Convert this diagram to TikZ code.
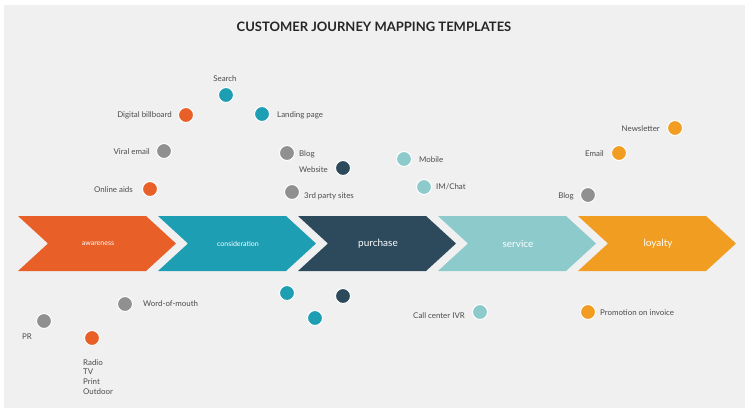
\documentclass[tikz,border=0pt]{standalone}
\usepackage{fontspec}
\setmainfont{Lato}
\begin{document}
\begin{tikzpicture}[x=1pt,y=-1pt,
  dot/.style={circle,minimum size=15pt,inner sep=0pt,draw=white,line width=1pt},
  lbl/.style={font=\fontsize{7.9}{9}\selectfont,text=black!70,inner sep=0pt}]
\definecolor{cor}{HTML}{E85F27}
\definecolor{cte}{HTML}{1E9EB2}
\definecolor{cdk}{HTML}{2C4A5C}
\definecolor{clt}{HTML}{8CCACB}
\definecolor{cye}{HTML}{F19D22}
\definecolor{cgr}{HTML}{909090}
\definecolor{bg}{HTML}{F0F0F0}
\useasboundingbox (0,0) rectangle (750,413);
\fill[white] (0,0) rectangle (750,413);
\fill[bg] (4,5) rectangle (745,408);
\node[font=\bfseries\fontsize{13}{15}\selectfont,text=black!85] (title) at (374,27) {CUSTOMER JOURNEY MAPPING TEMPLATES};
% chevrons
\foreach \i/\c/\t/\s in {0/cor/awareness/7,1/cte/consideration/7,2/cdk/purchase/10,3/clt/service/10,4/cye/loyalty/10}{
  \fill[\c] ({18+140*\i},216) -- ({146+140*\i},216) -- ({176+140*\i},243.5) -- ({146+140*\i},271) -- ({18+140*\i},271) -- ({48+140*\i},243.5) -- cycle;
  \node[text=white,font=\fontsize{\s}{12}\selectfont] (s\i) at ({98+140*\i},243.5) {\t};
}
% dots
\node[dot,fill=cte] (d1) at (226,95) {};
\node[lbl] (l1) at (225,79) {Search};
\node[dot,fill=cor] (d2) at (186,115) {};
\node[lbl,anchor=east] (l2) at (172,115) {Digital billboard};
\node[dot,fill=cte] (d3) at (262,114) {};
\node[lbl,anchor=west] (l3) at (277,115) {Landing page};
\node[dot,fill=cgr] (d4) at (164,151) {};
\node[lbl,anchor=east] (l4) at (150,152) {Viral email};
\node[dot,fill=cor] (d5) at (150,189) {};
\node[lbl,anchor=east] (l5) at (133,190) {Online aids};
\node[dot,fill=cgr] (d6) at (287,153) {};
\node[lbl,anchor=west] (l6) at (299,154) {Blog};
\node[dot,fill=cdk] (d7) at (343,168) {};
\node[lbl,anchor=east] (l7) at (328,170) {Website};
\node[dot,fill=cgr] (d8) at (292,192) {};
\node[lbl,anchor=west] (l8) at (304,196) {3rd party sites};
\node[dot,fill=clt] (d9) at (404,159) {};
\node[lbl,anchor=west] (l9) at (419,160) {Mobile};
\node[dot,fill=clt] (d10) at (424,187) {};
\node[lbl,anchor=west] (l10) at (436,187) {IM/Chat};
\node[dot,fill=cye] (d11) at (675,128) {};
\node[lbl,anchor=east] (l11) at (660,129) {Newsletter};
\node[dot,fill=cye] (d12) at (619,153) {};
\node[lbl,anchor=east] (l12) at (604,154) {Email};
\node[dot,fill=cgr] (d13) at (588,195) {};
\node[lbl,anchor=east] (l13) at (574,196) {Blog};
\node[dot,fill=cte] (d14) at (287,293) {};
\node[dot,fill=cdk] (d15) at (343,296) {};
\node[dot,fill=cte] (d16) at (315,318) {};
\node[dot,fill=cgr] (d17) at (125,304) {};
\node[lbl,anchor=west] (l17) at (143,304) {Word-of-mouth};
\node[dot,fill=cgr] (d18) at (44,321) {};
\node[lbl] (l18) at (27,337) {PR};
\node[dot,fill=cor] (d19) at (92,338) {};
\node[lbl,anchor=north west,align=left,font=\fontsize{7.9}{9.7}\selectfont] (l19) at (83,359) {Radio\\TV\\Print\\Outdoor};
\node[dot,fill=clt] (d20) at (480,312) {};
\node[lbl,anchor=east] (l20) at (465,316) {Call center IVR};
\node[dot,fill=cye] (d21) at (588,312) {};
\node[lbl,anchor=west] (l21) at (600,313) {Promotion on invoice};
\end{tikzpicture}
\end{document}
